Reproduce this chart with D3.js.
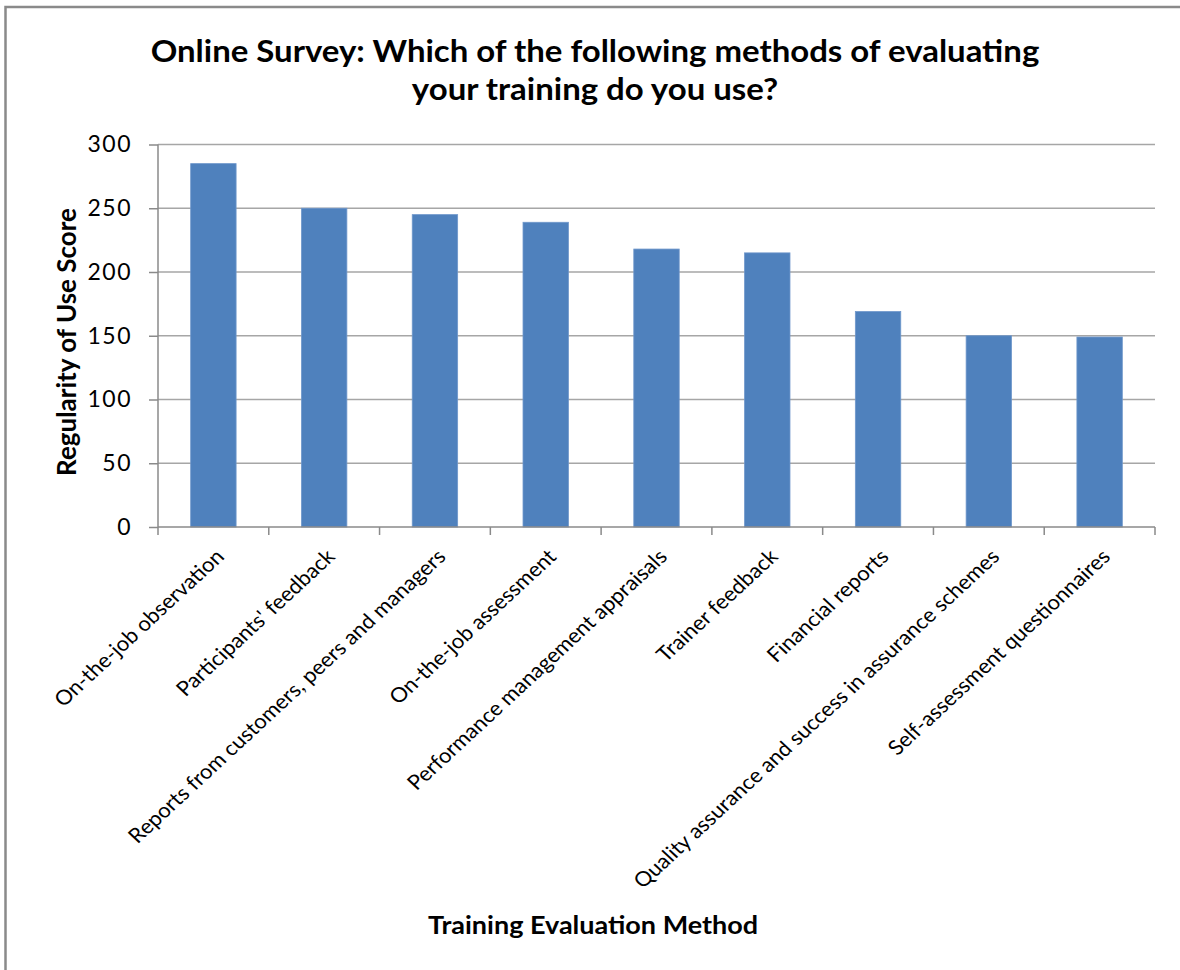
<!DOCTYPE html>
<html lang="en">
<head>
<meta charset="UTF-8">
<title>Training evaluation methods</title>
<script src="https://cdn.jsdelivr.net/npm/d3@7"></script>
<style>
  body { margin: 0; background: #fff; }
  svg text { font-family: Lato, "Open Sans", sans-serif; fill: #000; }
</style>
</head>
<body>
<div id="chart"></div>
<script>
// chart data
var methods = ["On-the-job observation", "Participants' feedback",
  "Reports from customers, peers and managers", "On-the-job assessment",
  "Performance management appraisals", "Trainer feedback", "Financial reports",
  "Quality assurance and success in assurance schemes", "Self-assessment questionnaires"];
var scores = [285, 250, 245, 239, 218, 215, 169, 150, 149];
var yTicks = [0, 50, 100, 150, 200, 250, 300];
var titleLines = ["Online Survey: Which of the following methods of evaluating",
  "your training do you use?"];

var width = 1180, height = 970;
var plotLeft = 158, plotRight = 1155, plotTop = 144.5, plotBottom = 527;
// the source picture is a little wider than tall, so text is stretched sideways
var stretch = 1.08;

var svg = d3.select("#chart").append("svg")
  .attr("width", width)
  .attr("height", height);

// outer chart frame (only top and left edges fall inside the picture)
svg.append("rect")
  .attr("x", 5.5).attr("y", 7)
  .attr("width", 1200).attr("height", 1000)
  .attr("fill", "none")
  .attr("stroke", "#8a8a8a")
  .attr("stroke-width", 2.5);

var x = d3.scaleBand()
  .domain(methods)
  .range([plotLeft, plotRight])
  .paddingInner(0.59)
  .paddingOuter(0.295);

var y = d3.scaleLinear()
  .domain([0, 300])
  .range([plotBottom, plotTop]);

// horizontal gridlines
svg.append("g")
  .selectAll("line")
  .data(yTicks.filter(function(d){ return d > 0; }))
  .enter().append("line")
  .attr("x1", plotLeft).attr("x2", plotRight)
  .attr("y1", function(d){ return y(d); })
  .attr("y2", function(d){ return y(d); })
  .attr("stroke", "#a6a6a6")
  .attr("stroke-width", 1.5);

// bars
svg.append("g")
  .selectAll("rect")
  .data(scores)
  .enter().append("rect")
  .attr("x", function(d, i){ return x(methods[i]); })
  .attr("y", function(d){ return y(d); })
  .attr("width", x.bandwidth())
  .attr("height", function(d){ return y(0) - y(d); })
  .attr("fill", "#4f81bd")
  .attr("stroke", "#6f97cb")
  .attr("stroke-width", 0.8);

// y axis
var yAxis = svg.append("g")
  .attr("transform", "translate(" + plotLeft + ",0)")
  .call(d3.axisLeft(y).tickValues(yTicks).tickSize(9).tickPadding(17));
yAxis.selectAll("line, path").attr("stroke", "#8a8a8a").attr("stroke-width", 1.5);
yAxis.select("path").attr("d", "M0," + plotTop + "V" + plotBottom);
yAxis.selectAll("text")
  .style("font-size", "23px")
  .style("font-family", "Lato, sans-serif")
  .style("letter-spacing", "1.5px")
  .attr("fill", "#000");

// x axis: ticks sit on category boundaries
var bounds = methods.map(function(m){ return x(m) - x.step() * x.paddingInner() / 2; });
bounds.push(plotRight);
var xAxis = svg.append("g");
xAxis.append("line")
  .attr("x1", plotLeft).attr("x2", plotRight)
  .attr("y1", plotBottom).attr("y2", plotBottom)
  .attr("stroke", "#8a8a8a").attr("stroke-width", 1.5);
xAxis.selectAll(".tick")
  .data(bounds)
  .enter().append("line")
  .attr("x1", function(d){ return d; })
  .attr("x2", function(d){ return d; })
  .attr("y1", plotBottom).attr("y2", plotBottom + 8)
  .attr("stroke", "#8a8a8a").attr("stroke-width", 1.5);

xAxis.selectAll(".cat")
  .data(methods)
  .enter().append("text")
  .attr("class", "cat")
  .attr("transform", function(d){
    var cx = x(d) + x.bandwidth() / 2 + 12;
    return "translate(" + cx + ",558) scale(" + stretch + ",1) rotate(-45)";
  })
  .attr("text-anchor", "end")
  .style("font-size", "20.5px")
  .text(function(d){ return d; });

// title
svg.append("g")
  .selectAll("text")
  .data(titleLines)
  .enter().append("text")
  .attr("transform", function(d, i){
    return "translate(595," + (62 + i * 38) + ") scale(" + stretch + ",1)";
  })
  .attr("text-anchor", "middle")
  .style("font-size", "30.5px")
  .style("font-weight", "bold")
  .text(function(d){ return d; });

// axis titles
svg.append("text")
  .attr("transform", "translate(76,342) rotate(-90)")
  .attr("text-anchor", "middle")
  .style("font-size", "26px")
  .style("font-weight", "bold")
  .text("Regularity of Use Score");

svg.append("text")
  .attr("transform", "translate(593,934) scale(" + stretch + ",1)")
  .attr("text-anchor", "middle")
  .style("font-size", "25px")
  .style("font-weight", "bold")
  .text("Training Evaluation Method");
</script>
</body>
</html>
